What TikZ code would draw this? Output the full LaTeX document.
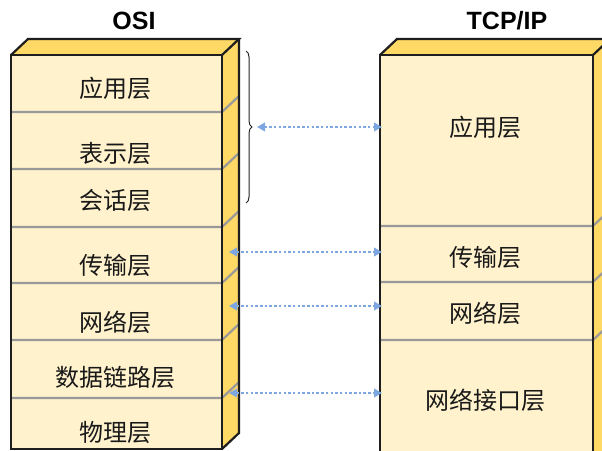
\documentclass[tikz,border=0pt]{standalone}
\usepackage{fontspec}
\setmainfont{Liberation Sans}
\newfontfamily\cjk{Noto Sans CJK SC}
\usetikzlibrary{arrows.meta,decorations.pathreplacing}
\definecolor{frontc}{HTML}{FFF2CC}
\definecolor{sidec}{HTML}{FFD966}
\definecolor{edgec}{HTML}{1E1E1E}
\definecolor{sepc}{HTML}{999999}
\definecolor{arrc}{HTML}{7EA6E0}
\begin{document}
\begin{tikzpicture}[x=1pt,y=-1pt,
  edgeline/.style={draw=edgec,line width=2.2pt,line join=miter},
  sepline/.style={draw=sepc,line width=2.2pt},
  lbl/.style={font=\cjk\fontsize{24}{28}\selectfont,text=black!90,inner sep=0pt},
  ttl/.style={font=\bfseries\fontsize{25}{29}\selectfont,text=black,inner sep=0pt},
  conn/.style={draw=arrc,line width=2.6pt,dash pattern=on 2.5pt off 2.2pt,
    {Triangle[length=8pt,width=8.5pt,fill=arrc]}-{Triangle[length=8pt,width=8.5pt,fill=arrc]}},
  bracestyle/.style={draw=black!85,line width=1pt,decorate,decoration={brace,amplitude=6pt}}
]
\useasboundingbox (0,0) rectangle (602,450);
\clip (0,0) rectangle (602,450);

% ---------- OSI stack ----------
\fill[sidec] (11,55) -- (28,39) -- (239,39) -- (222,55) -- cycle;
\fill[sidec] (222,55) -- (239,39) -- (239,433) -- (222,449) -- cycle;
\fill[frontc] (11,55) rectangle (222,449);
\foreach \y in {112,169,227,283,340,398}
  \draw[sepline] (11,\y) -- (222,\y) -- (239,\y-16);
\draw[edgeline] (11,55) rectangle (222,449);
\draw[edgeline] (11,55) -- (28,39) -- (239,39) -- (222,55);
\draw[edgeline] (239,39) -- (239,433) -- (222,449);

% ---------- TCP/IP stack ----------
\fill[sidec] (380,55) -- (397,39) -- (610,39) -- (593,55) -- cycle;
\fill[sidec] (593,55) -- (610,39) -- (610,470) -- (593,470) -- cycle;
\fill[frontc] (380,55) rectangle (593,470);
\foreach \y in {226,282,340}
  \draw[sepline] (380,\y) -- (593,\y) -- (610,\y-16);
\draw[edgeline] (380,55) rectangle (593,470);
\draw[edgeline] (380,55) -- (397,39) -- (610,39) -- (593,55);

% ---------- titles ----------
\node[ttl] (tosi) at (134,21) {OSI};
\node[ttl] (ttcp) at (507,21) {TCP/IP};

% ---------- OSI labels ----------
\node[lbl] (o1) at (115,88) {应用层};
\node[lbl] (o2) at (115,153) {表示层};
\node[lbl] (o3) at (115,200) {会话层};
\node[lbl] (o4) at (115,265) {传输层};
\node[lbl] (o5) at (115,322) {网络层};
\node[lbl] (o6) at (115,377) {数据链路层};
\node[lbl] (o7) at (115,432) {物理层};

% ---------- TCP/IP labels ----------
\node[lbl] (t1) at (485,127) {应用层};
\node[lbl] (t2) at (485,257) {传输层};
\node[lbl] (t3) at (485,313) {网络层};
\node[lbl] (t4) at (485,400) {网络接口层};

% ---------- brace ----------
\coordinate (btop) at (246,51);
\coordinate (bbot) at (246,203);
\draw[bracestyle] (btop) -- (bbot);

% ---------- connectors ----------
\coordinate (a1l) at (257,127);
\coordinate (a1r) at (382,127);
\coordinate (a2l) at (229,252);
\coordinate (a2r) at (382,252);
\coordinate (a3l) at (229,306);
\coordinate (a3r) at (382,306);
\coordinate (a4l) at (229,393);
\coordinate (a4r) at (382,393);
\draw[conn] (a1l) -- (a1r);
\draw[conn] (a2l) -- (a2r);
\draw[conn] (a3l) -- (a3r);
\draw[conn] (a4l) -- (a4r);
\end{tikzpicture}
\end{document}
